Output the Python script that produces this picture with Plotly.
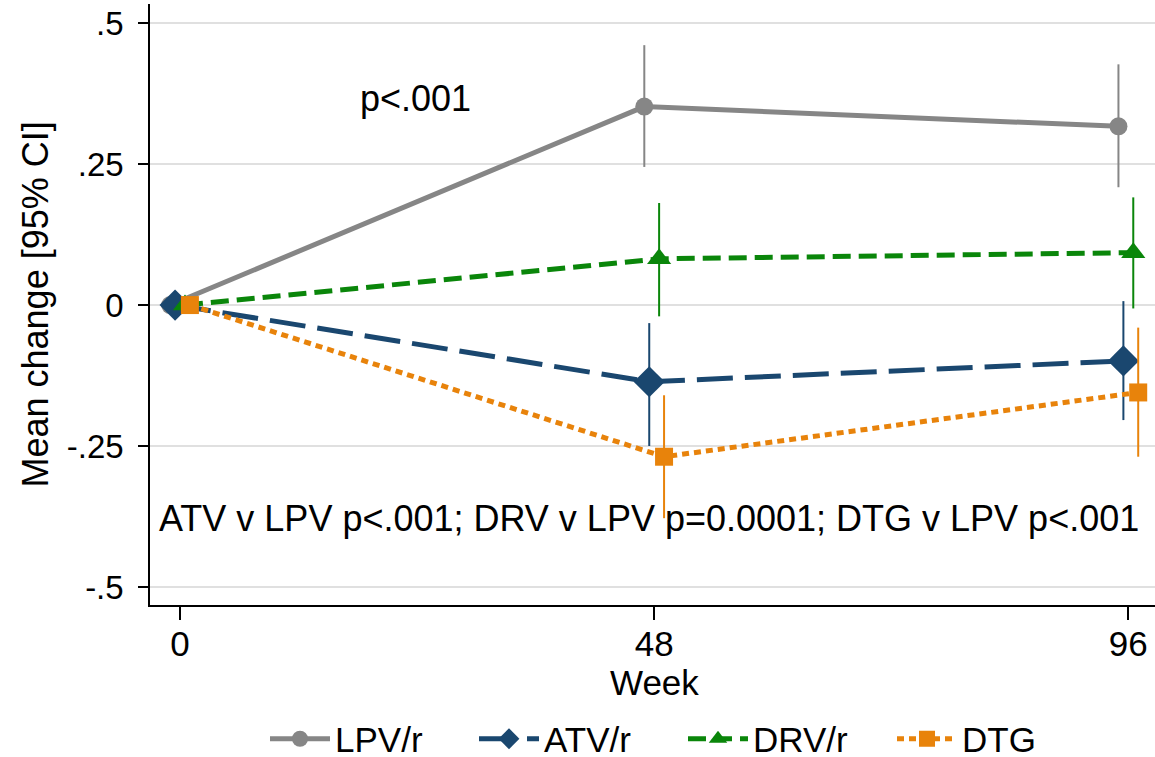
import plotly.graph_objects as go

weeks = [0, 48, 96]
series_names = ["LPV/r", "ATV/r", "DRV/r", "DTG"]
offsets = [-1.0, -0.5, 0.5, 1.0]

lpv_mean = [0.0, 0.352, 0.317]
lpv_hi = [0.0, 0.461, 0.427]
lpv_lo = [0.0, 0.245, 0.209]

atv_mean = [0.0, -0.136, -0.099]
atv_hi = [0.0, -0.032, 0.007]
atv_lo = [0.0, -0.250, -0.204]

drv_mean = [0.0, 0.082, 0.093]
drv_hi = [0.0, 0.181, 0.191]
drv_lo = [0.0, -0.020, -0.006]

dtg_mean = [0.0, -0.269, -0.155]
dtg_hi = [0.0, -0.160, -0.040]
dtg_lo = [0.0, -0.378, -0.269]

y_ticks = [-0.5, -0.25, 0, 0.25, 0.5]
y_tick_text = ["-.5", "-.25", "0", ".25", ".5"]
x_ticks = [0, 48, 96]

colors = ["#868686", "#1a476f", "#0a860a", "#e8830b"]
dashes = ["solid", "36px,12px", "18px,8px", "7px,5px"]
symbols = ["circle", "diamond", "triangle-up", "square"]
msizes = [18, 24, 21, 18]

means = [lpv_mean, atv_mean, drv_mean, dtg_mean]
his = [lpv_hi, atv_hi, drv_hi, dtg_hi]
los = [lpv_lo, atv_lo, drv_lo, dtg_lo]

FONT = "Liberation Sans, Arial, Helvetica, sans-serif"

fig = go.Figure()
for i, name in enumerate(series_names):
    xs = [w + offsets[i] for w in weeks]
    m = means[i]
    plus = [h - v for h, v in zip(his[i], m)]
    minus = [v - l for v, l in zip(m, los[i])]
    fig.add_trace(go.Scatter(
        x=xs, y=m, name=name, mode="lines+markers",
        line=dict(color=colors[i], width=5, dash=dashes[i]),
        marker=dict(symbol=symbols[i], size=msizes[i], color=colors[i],
                    line=dict(width=0)),
        error_y=dict(type="data", symmetric=False, array=plus, arrayminus=minus,
                     width=0, thickness=2, color=colors[i]),
    ))

fig.add_annotation(x=23.8, y=0.367, xref="x", yref="y", text="p<.001",
                   xanchor="center", yanchor="middle",
                   showarrow=False, font=dict(size=36, color="black", family=FONT))
fig.add_annotation(x=47.5, y=-0.378, xref="x", yref="y",
                   text="ATV v LPV p<.001; DRV v LPV p=0.0001; DTG v LPV p<.001",
                   xanchor="center", yanchor="middle",
                   showarrow=False, font=dict(size=36, color="black", family=FONT))
fig.add_annotation(x=(35 - 150) / 1005, y=0.5, xref="paper", yref="paper",
                   text="Mean change [95% CI]", textangle=-90, showarrow=False,
                   xanchor="center", yanchor="middle",
                   font=dict(size=36, color="black", family=FONT))
fig.add_annotation(x=(654 - 150) / 1005, y=(605 - 683) / 601, xref="paper", yref="paper",
                   text="Week", showarrow=False, xanchor="center", yanchor="middle",
                   font=dict(size=35, color="black", family=FONT))

fig.update_layout(
    width=1155, height=757,
    margin=dict(l=150, r=0, t=4, b=152, autoexpand=False),
    paper_bgcolor="white", plot_bgcolor="white",
    font=dict(family=FONT, size=34, color="black"),
    showlegend=True,
    legend=dict(orientation="h", x=(683 - 150) / 1005, xanchor="center",
                y=(605 - 739) / 601, yanchor="middle", font=dict(size=35),
                itemwidth=60, entrywidth=134, entrywidthmode="pixels",
                bgcolor="rgba(0,0,0,0)"),
    xaxis=dict(range=[-3.04, 98.7], tickvals=x_ticks, ticks="outside", ticklen=13,
               tickwidth=1.5, tickcolor="black", showline=True, linecolor="black",
               linewidth=1.5, showgrid=False, zeroline=False,
               tickfont=dict(size=35), ticklabelstandoff=-6),
    yaxis=dict(range=[-0.532, 0.534], tickvals=y_ticks, ticktext=y_tick_text,
               ticks="outside", ticklen=10, tickwidth=1.5, tickcolor="black",
               showline=True, linecolor="black", linewidth=1.5,
               showgrid=True, gridcolor="#e0e0e0", gridwidth=2, zeroline=False,
               tickfont=dict(size=33), ticklabelstandoff=8),
)

fig.write_html("out.html")
